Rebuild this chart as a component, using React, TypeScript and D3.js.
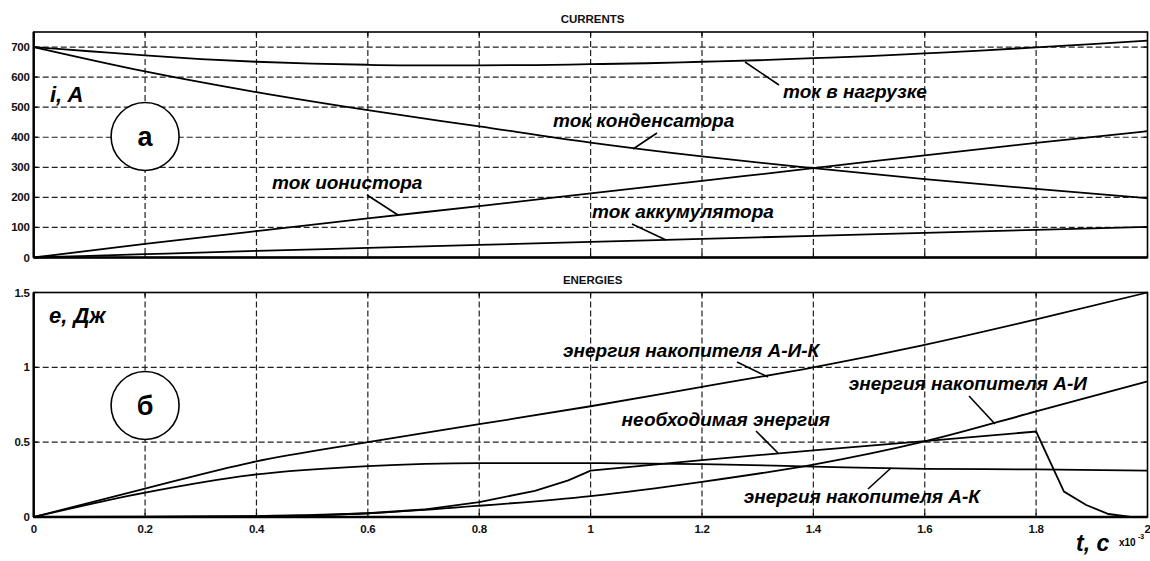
import React from "react";
import * as d3 from "d3";

// time in units of 1e-3 s
const tLoad = [0, 0.1, 0.2, 0.3, 0.4, 0.5, 0.6, 0.7, 0.8, 0.9, 1.0, 1.1, 1.2, 1.3, 1.4, 1.5, 1.6, 1.7, 1.8, 1.9, 2.0];
const iLoad = [700, 686, 672, 660, 651, 645, 641, 639, 639, 640, 643, 646, 651, 656, 663, 670, 679, 688, 699, 710, 721];

const tCur = [0, 0.2, 0.4, 0.6, 0.8, 1.0, 1.2, 1.4, 1.6, 1.8, 2.0];
const iCap = [700, 619, 550, 490, 436, 382, 336, 297, 261, 228, 197];
const iIon = [0, 45, 88, 130, 171, 213, 255, 297, 340, 381, 420];
const iAcc = [0, 11, 22, 32, 42, 52, 62, 72, 82, 92, 102];

const tE = [0, 0.2, 0.39, 0.6, 0.8, 1.0, 1.2, 1.4, 1.6, 1.8, 2.0];
const eAIK = [0, 0.19, 0.364, 0.5, 0.62, 0.74, 0.87, 1.0, 1.15, 1.32, 1.5];
const eAK = [0, 0.163, 0.28, 0.34, 0.36, 0.36, 0.353, 0.337, 0.322, 0.318, 0.31];
const eAI = [0, 0.001, 0.006, 0.025, 0.075, 0.14, 0.235, 0.35, 0.505, 0.705, 0.906];

const tNeed = [0, 0.4, 0.5, 0.6, 0.7, 0.8, 0.9, 0.96, 1.0, 1.2, 1.4, 1.6, 1.8, 1.85, 1.89, 1.93, 1.97, 2.0];
const eNeed = [0, 0.004, 0.01, 0.025, 0.05, 0.1, 0.175, 0.245, 0.31, 0.38, 0.445, 0.507, 0.571, 0.17, 0.08, 0.02, 0.0, 0.0];

const xTicks = [0, 0.2, 0.4, 0.6, 0.8, 1.0, 1.2, 1.4, 1.6, 1.8, 2.0];
const xTickLabels = ["0", "0.2", "0.4", "0.6", "0.8", "1", "1.2", "1.4", "1.6", "1.8", "2"];
const yTopTicks = [0, 100, 200, 300, 400, 500, 600, 700];
const yBotTicks = [0, 0.5, 1, 1.5];
const yBotTickLabels = ["0", "0.5", "1", "1.5"];

const W = 1150;
const H = 561;
const FONT = "'Liberation Sans', Arial, Helvetica, sans-serif";

const x = d3.scaleLinear().domain([0, 2]).range([33.7, 1147.5]);
const yTop = d3.scaleLinear().domain([0, 750]).range([257.5, 32]);
const yBot = d3.scaleLinear().domain([0, 1.5]).range([517, 292.5]);

function pathOf(ts: number[], vs: number[], y: d3.ScaleLinear<number, number>) {
  const line = d3
    .line<number>()
    .x((_, i) => x(ts[i]))
    .y((v) => y(v))
    .curve(d3.curveMonotoneX);
  return line(vs) || "";
}

function Panel({ y, ticks, labels, title }: { y: d3.ScaleLinear<number, number>; ticks: number[]; labels: string[]; title: string }) {
  const [x0, x1] = x.range();
  const [yb, yt] = y.range();
  return (
    <g>
      <text x={(x0 + x1) / 2 + 2} y={yt - 9} textAnchor="middle" fontFamily={FONT} fontWeight="bold" fontSize={11.5} fill="#111">
        {title}
      </text>
      {xTicks.slice(1, -1).map((t) => (
        <line key={"gx" + t} x1={x(t)} x2={x(t)} y1={yt} y2={yb} stroke="#222" strokeWidth={1.2} strokeDasharray="6,3" />
      ))}
      {ticks.slice(1).map((v) =>
        y(v) > yt + 1 ? <line key={"gy" + v} x1={x0} x2={x1} y1={y(v)} y2={y(v)} stroke="#222" strokeWidth={1.2} strokeDasharray="6,3" /> : null
      )}
      {xTicks.map((t) => (
        <g key={"tx" + t}>
          <line x1={x(t)} x2={x(t)} y1={yt} y2={yt + 4} stroke="#000" strokeWidth={1.2} />
          <line x1={x(t)} x2={x(t)} y1={yb} y2={yb - 4} stroke="#000" strokeWidth={1.2} />
        </g>
      ))}
      {ticks.map((v) => (
        <g key={"ty" + v}>
          <line x1={x0} x2={x0 + 4} y1={y(v)} y2={y(v)} stroke="#000" strokeWidth={1.2} />
          <line x1={x1} x2={x1 - 4} y1={y(v)} y2={y(v)} stroke="#000" strokeWidth={1.2} />
          <text x={29.5} y={y(v) + 4} textAnchor="end" fontFamily={FONT} fontWeight="bold" fontSize={11.5} letterSpacing={-0.3} fill="#111">
            {labels[ticks.indexOf(v)]}
          </text>
        </g>
      ))}
      <rect x={x0} y={yt} width={x1 - x0} height={yb - yt} fill="none" stroke="#000" strokeWidth={1.6} />
      <line x1={x0} x2={x0} y1={yt} y2={yb} stroke="#000" strokeWidth={2.4} />
      <line x1={x0} x2={x1} y1={yb} y2={yb} stroke="#000" strokeWidth={2.4} />
    </g>
  );
}

function Label({ x: lx, y: ly, text, anchor = "start", l }: { x: number; y: number; text: string; anchor?: string; l: number[] }) {
  return (
    <g>
      <line x1={l[0]} y1={l[1]} x2={l[2]} y2={l[3]} stroke="#000" strokeWidth={1.6} />
      <text x={lx} y={ly} textAnchor={anchor} fontFamily={FONT} fontWeight="bold" fontStyle="italic" fontSize={19} fill="#000">
        {text}
      </text>
    </g>
  );
}

export default function App() {
  const topLabels = yTopTicks.map(String);
  const ls = { fill: "none", stroke: "#000", strokeWidth: 1.8 } as const;
  return (
    <svg width={W} height={H} style={{ position: "absolute", left: 0, top: 0, background: "#fff" }}>
      <rect width={W} height={H} fill="#fff" />
      <Panel y={yTop} ticks={yTopTicks} labels={topLabels} title="CURRENTS" />
      <Panel y={yBot} ticks={yBotTicks} labels={yBotTickLabels} title="ENERGIES" />

      <path d={pathOf(tLoad, iLoad, yTop)} {...ls} />
      <path d={pathOf(tCur, iCap, yTop)} {...ls} />
      <path d={pathOf(tCur, iIon, yTop)} {...ls} />
      <path d={pathOf(tCur, iAcc, yTop)} {...ls} />

      <path d={pathOf(tE, eAIK, yBot)} {...ls} />
      <path d={pathOf(tE, eAK, yBot)} {...ls} />
      <path d={pathOf(tE, eAI, yBot)} {...ls} />
      <path d={d3.line<number>().x((_, i) => x(tNeed[i])).y((v) => yBot(v))(eNeed) || ""} {...ls} />

      {xTickLabels.map((s, i) => (
        <text key={"xl" + i} x={x(xTicks[i])} y={533} textAnchor="middle" fontFamily={FONT} fontWeight="bold" fontSize={11.5} letterSpacing={-0.3} fill="#111">
          {s}
        </text>
      ))}

      <text x={50} y={102} fontFamily={FONT} fontWeight="bold" fontStyle="italic" fontSize={22}>i, A</text>
      <text x={49} y={323} fontFamily={FONT} fontWeight="bold" fontStyle="italic" fontSize={22}>e, Дж</text>
      <text x={1076} y={551} fontFamily={FONT} fontWeight="bold" fontStyle="italic" fontSize={23}>t, c</text>
      <text x={1119} y={546} fontFamily={FONT} fontWeight="bold" fontSize={10}>x10</text>
      <text x={1138} y={539} fontFamily={FONT} fontWeight="bold" fontSize={7}>-3</text>

      <circle cx={x(0.2)} cy={136.5} r={34} fill="#fff" stroke="#000" strokeWidth={1.6} />
      <text x={x(0.2)} y={146} textAnchor="middle" fontFamily={FONT} fontWeight="bold" fontSize={27}>а</text>
      <circle cx={x(0.2)} cy={405.5} r={34} fill="#fff" stroke="#000" strokeWidth={1.6} />
      <text x={x(0.2)} y={415} textAnchor="middle" fontFamily={FONT} fontWeight="bold" fontSize={27}>б</text>

      <Label x={783} y={98} text="ток в нагрузке" l={[745, 62, 779, 85]} />
      <Label x={553} y={127} text="ток конденсатора" l={[633, 149, 657, 133]} />
      <Label x={272} y={189} text="ток ионистора" l={[367, 195, 398, 215]} />
      <Label x={592} y={218} text="ток аккумулятора" l={[632, 224, 666, 240]} />

      <Label x={563} y={357} text="энергия накопителя А-И-К" l={[737, 362, 768, 377]} />
      <Label x={1087} y={390} text="энергия накопителя А-И" anchor="end" l={[969, 396, 995, 424]} />
      <Label x={830} y={426} text="необходимая энергия" anchor="end" l={[756, 431, 778, 453]} />
      <Label x={980} y={503} text="энергия накопителя А-К" anchor="end" l={[868, 489, 891, 468]} />
    </svg>
  );
}
